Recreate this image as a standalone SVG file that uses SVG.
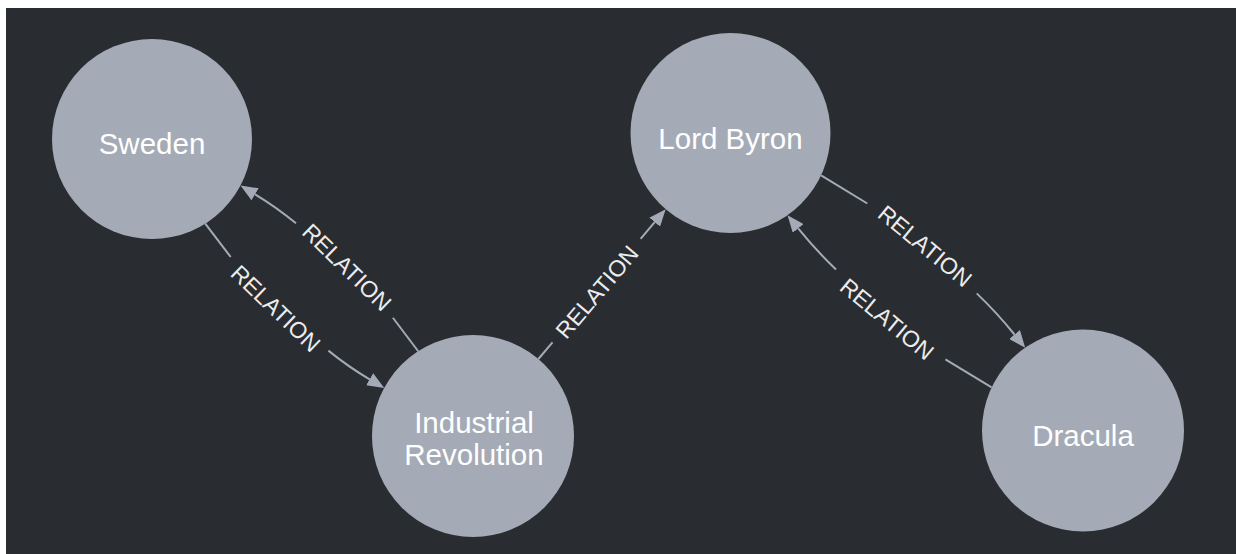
<svg xmlns="http://www.w3.org/2000/svg" width="1236" height="554" viewBox="0 0 1236 554">
  <style>
    .node circle { fill: #a5abb6; }
    .node text { font-family: "Liberation Sans", Arial, sans-serif; font-size: 29.5px; fill: #ffffff; text-anchor: middle; }
    .rel { stroke: #a5abb6; stroke-width: 2; fill: none; }
    .rlabel { font-family: "Liberation Sans", Arial, sans-serif; font-size: 23px; fill: #ececec; text-anchor: middle; dominant-baseline: central; }
  </style>
  <defs>
    <marker id="arrow" markerUnits="userSpaceOnUse" markerWidth="17" markerHeight="14" viewBox="0 0 17 14" refX="0" refY="7" orient="auto">
      <path d="M0,0 L17,7 L0,14 Z" fill="#a5abb6"/>
    </marker>
  </defs>
  <rect x="0" y="0" width="1236" height="554" fill="#ffffff"/>
  <rect x="6" y="8" width="1230" height="546" fill="#292c31"/>

  <g id="connectors">
    <!-- Industrial Revolution -> Sweden -->
    <g id="edge-ir-sweden">
      <path class="rel" d="M418.2,351.25 L392.9,317.75"/>
      <path class="rel" d="M296.0,223.3 Q276.5,207.2 255.1,194.3" marker-end="url(#arrow)"/>
      <text class="rlabel" transform="translate(346.9,267.3) rotate(44.2)">RELATION</text>
    </g>
    <!-- Sweden -> Industrial Revolution -->
    <g id="edge-sweden-ir">
      <path class="rel" d="M205.25,223.7 L230.7,257.0"/>
      <path class="rel" d="M328.4,350.6 Q348.1,366.6 369.6,379.3" marker-end="url(#arrow)"/>
      <text class="rlabel" transform="translate(275.7,308.5) rotate(43.8)">RELATION</text>
    </g>
    <!-- Industrial Revolution -> Lord Byron -->
    <g id="edge-ir-byron">
      <path class="rel" d="M538.4,359 L552.5,342.4"/>
      <path class="rel" d="M640.6,238.8 L654.7,222.15" marker-end="url(#arrow)"/>
      <text class="rlabel" transform="translate(597,292) rotate(-49.6)">RELATION</text>
    </g>
    <!-- Lord Byron -> Dracula -->
    <g id="edge-byron-dracula">
      <path class="rel" d="M821.1,175.4 L867.3,203.5"/>
      <path class="rel" d="M976.7,293.4 Q996.9,312.7 1014.5,334.5" marker-end="url(#arrow)"/>
      <text class="rlabel" transform="translate(925,246) rotate(39.5)">RELATION</text>
    </g>
    <!-- Dracula -> Lord Byron -->
    <g id="edge-dracula-byron">
      <path class="rel" d="M991.6,387.4 L945.4,359.3"/>
      <path class="rel" d="M836.0,269.5 Q815.8,250.2 798.2,228.4" marker-end="url(#arrow)"/>
      <text class="rlabel" transform="translate(887,319) rotate(39.5)">RELATION</text>
    </g>
  </g>

  <g id="node-sweden" class="node">
    <circle cx="152" cy="139" r="100"/>
    <text x="152" y="154">Sweden</text>
  </g>
  <g id="node-industrial-revolution" class="node">
    <circle cx="473" cy="436" r="101"/>
    <text x="474" y="432.5">Industrial</text>
    <text x="474" y="465">Revolution</text>
  </g>
  <g id="node-lord-byron" class="node">
    <circle cx="730.5" cy="133" r="100"/>
    <text x="730.5" y="148.5">Lord Byron</text>
  </g>
  <g id="node-dracula" class="node">
    <circle cx="1083" cy="430.5" r="101"/>
    <text x="1083" y="446">Dracula</text>
  </g>
</svg>
